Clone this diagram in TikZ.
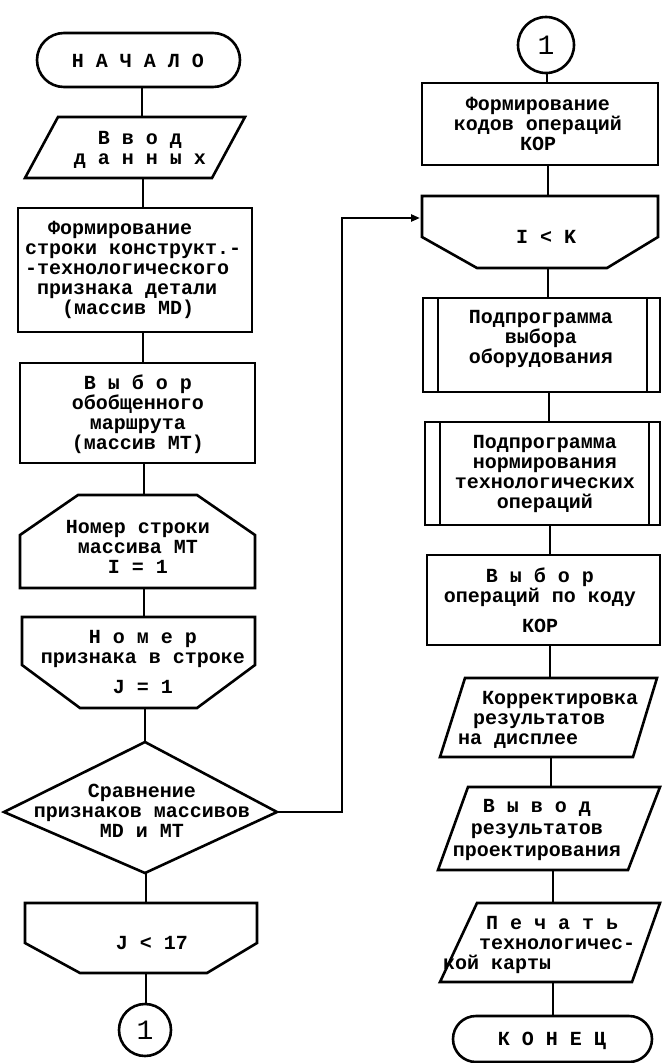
\documentclass[tikz,border=0pt]{standalone}
\usepackage{fontspec}
\usetikzlibrary{arrows.meta}
\newfontfamily\tw{Liberation Mono}
\begin{document}
\begin{tikzpicture}[x=1pt,y=-1pt]
\tikzset{
  shp/.style={draw, line width=2.6pt, line join=miter},
  con/.style={draw, line width=2.6pt},
  txt/.style={font=\fontsize{20}{20}\tw\bfseries, align=center, inner sep=0pt},
  ltxt/.style={txt, align=left, anchor=west},
  digit/.style={txt, font=\fontsize{28}{28}\tw},
  arr/.style={con, -{Triangle[length=9pt,width=7pt]}}
}
\useasboundingbox (0,0) rectangle (662,1063);

% ---------------- left column ----------------
% start
\draw[shp, rounded corners=27pt] (37,33) rectangle (240,87);
\node[txt] (start) at (138,61) {Н А Ч А Л О};
\coordinate (startb) at (142,87);

% input
\draw[shp] (58,117) -- (245,117) -- (212,178) -- (25,178) -- cycle;
\node[txt] (input) at (140,150) {В в о д\\д а н н ы х};
\coordinate (inputt) at (142,117);
\coordinate (inputb) at (143,178);

% box MD
\draw[shp] (18,208) rectangle (252,332);
\node[ltxt] (boxmd) at (25,270) {\hspace*{23pt}Формирование\\строки конструкт.-\\-технологического\\\hspace*{12pt}признака детали\\\hspace*{37pt}(массив MD)};
\coordinate (boxmdt) at (143,208);
\coordinate (boxmdb) at (143,332);

% box MT
\draw[shp] (20,363) rectangle (255,463);
\node[txt] (boxmt) at (138,414) {В ы б о р\\обобщенного\\маршрута\\(массив MT)};
\coordinate (boxmtt) at (143,363);
\coordinate (boxmtb) at (144,463);

% loop start I
\draw[shp] (78,495) -- (197,495) -- (255,535) -- (255,588) -- (20,588) -- (20,535) -- cycle;
\node[txt] (loopi) at (138,547) {Номер строки\\массива MT\\I = 1};
\coordinate (loopit) at (144,495);
\coordinate (loopib) at (144,588);

% loop J
\draw[shp] (22,617) -- (255,617) -- (255,665) -- (197,708) -- (80,708) -- (22,665) -- cycle;
\node[txt] (loopj) at (143,662) {Н о м е р\\признака в строке\\[10pt]J = 1};
\coordinate (loopjt) at (144,617);
\coordinate (loopjb) at (145,708);

% decision
\draw[shp] (145,742) -- (277,812) -- (145,873) -- (4,812) -- cycle;
\node[txt] (dec) at (142,811) {Сравнение\\признаков массивов\\MD и MT};
\coordinate (dect) at (145,742);
\coordinate (decr) at (277,812);
\coordinate (decb) at (146,873);

% loop end J<17
\draw[shp] (25,903) -- (257,903) -- (257,943) -- (207,973) -- (80,973) -- (25,943) -- cycle;
\node[txt] (loopje) at (152,943) {J < 17};
\coordinate (loopjet) at (146,903);
\coordinate (loopjeb) at (146,973);

% connector 1 (bottom)
\draw[shp] (145,1030) circle[radius=26];
\node[digit] (c1a) at (145,1030) {1};
\coordinate (c1at) at (146,1004);

% ---------------- right column ----------------
\draw[shp] (546,45) circle[radius=28];
\node[digit] (c1b) at (546,45) {1};
\coordinate (c1bb) at (547,73);

% box KOP
\draw[shp] (422,83) rectangle (658,165);
\node[txt] (kop) at (538,124) {Формирование\\кодов операций\\КОР};
\coordinate (kopt) at (547,83);
\coordinate (kopb) at (548,165);

% loop I<K
\draw[shp] (422,196) -- (658,196) -- (658,237) -- (607,268) -- (477,268) -- (422,237) -- cycle;
\node[txt] (loopie) at (546,237) {I < K};
\coordinate (loopiet) at (548,196);
\coordinate (loopiel) at (420,218);
\coordinate (loopieb) at (548,268);

% subroutine 1
\draw[shp] (423,298) rectangle (660,392);
\draw[shp] (438,298) -- (438,392);
\draw[shp] (647,298) -- (647,392);
\node[txt] (sub1) at (541,339) {Подпрограмма\\выбора\\оборудования};
\coordinate (sub1t) at (548,298);
\coordinate (sub1b) at (549,392);

% subroutine 2
\draw[shp] (425,422) rectangle (660,525);
\draw[shp] (440,422) -- (440,525);
\draw[shp] (649,422) -- (649,525);
\node[txt] (sub2) at (545,474) {Подпрограмма\\нормирования\\технологических\\операций};
\coordinate (sub2t) at (549,422);
\coordinate (sub2b) at (550,525);

% box select ops
\draw[shp] (427,555) rectangle (660,645);
\node[txt] (selop) at (540,600) {В ы б о р\\операций по коду\\[10pt]КОР};
\coordinate (selopt) at (550,555);
\coordinate (selopb) at (550,645);

% correction
\draw[shp] (465,678) -- (657,678) -- (633,757) -- (440,757) -- cycle;
\node[ltxt] (corr) at (458,720) {\hspace*{24pt}Корректировка\\\hspace*{15pt}результатов\\на дисплее};
\coordinate (corrt) at (550,678);
\coordinate (corrb) at (551,757);

% output
\draw[shp] (468,787) -- (660,787) -- (628,870) -- (438,870) -- cycle;
\node[txt, font=\fontsize{20}{22}\tw\bfseries] (outp) at (537,830) {В ы в о д\\результатов\\проектирования};
\coordinate (outpt) at (551,787);
\coordinate (outpb) at (553,870);

% print
\draw[shp] (477,903) -- (660,903) -- (632,982) -- (440,982) -- cycle;
\node[ltxt] (prnt) at (443,945) {\hspace*{43pt}П е ч а т ь\\\hspace*{36pt}технологичес-\\кой карты};
\coordinate (prntt) at (553,903);
\coordinate (prntb) at (553,982);

% end
\draw[shp, rounded corners=23pt] (453,1016) rectangle (652,1062);
\node[txt] (stop) at (552,1041) {К О Н Е Ц};
\coordinate (stopt) at (553,1016);

% ---------------- connectors ----------------
\draw[con] (startb) -- (inputt);
\draw[con] (inputb) -- (boxmdt);
\draw[con] (boxmdb) -- (boxmtt);
\draw[con] (boxmtb) -- (loopit);
\draw[con] (loopib) -- (loopjt);
\draw[con] (loopjb) -- (dect);
\draw[con] (decb) -- (loopjet);
\draw[con] (loopjeb) -- (c1at);

\draw[con] (c1bb) -- (kopt);
\draw[con] (kopb) -- (loopiet);
\draw[con] (loopieb) -- (sub1t);
\draw[con] (sub1b) -- (sub2t);
\draw[con] (sub2b) -- (selopt);
\draw[con] (selopb) -- (corrt);
\draw[con] (corrb) -- (outpt);
\draw[con] (outpb) -- (prntt);
\draw[con] (prntb) -- (stopt);

\draw[arr] (decr) -- (342,812) -- (342,218) -- (loopiel);
\end{tikzpicture}
\end{document}
